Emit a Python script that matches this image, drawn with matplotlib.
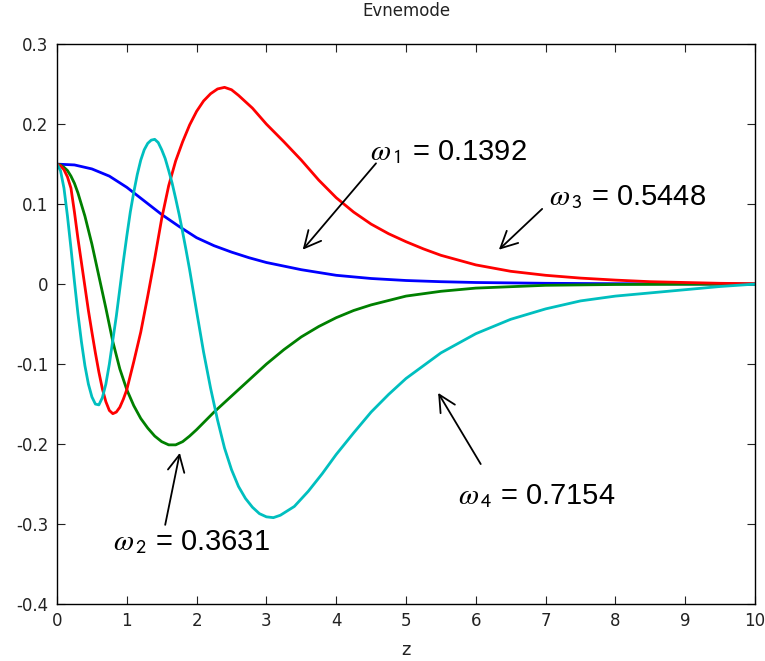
import matplotlib.pyplot as plt

# even modes, sampled values
z1 = [0, 0.25, 0.5, 0.75, 1.0, 1.25, 1.5, 1.75, 2.0, 2.25, 2.5, 2.75, 3.0, 3.5,
      4.0, 4.5, 5.0, 5.5, 6.0, 7.0, 8.0, 9.0, 10.0]
mode1 = [0.150, 0.149, 0.144, 0.135, 0.121, 0.104, 0.087, 0.072, 0.058, 0.048,
         0.040, 0.033, 0.027, 0.018, 0.011, 0.007, 0.0045, 0.003, 0.002, 0.001,
         0.0005, 0.0002, 0.0]

z2 = [0, 0.05, 0.1, 0.15, 0.2, 0.25, 0.3, 0.4, 0.5, 0.6, 0.7, 0.8, 0.9, 1.0,
      1.1, 1.2, 1.3, 1.4, 1.5, 1.6, 1.7, 1.8, 1.9, 2.0, 2.25, 2.5, 2.75, 3.0,
      3.25, 3.5, 3.75, 4.0, 4.25, 4.5, 5.0, 5.5, 6.0, 7.0, 8.0, 9.0, 10.0]
mode2 = [0.150, 0.149, 0.146, 0.142, 0.135, 0.126, 0.114, 0.085, 0.050, 0.010,
         -0.030, -0.072, -0.106, -0.132, -0.152, -0.168, -0.180, -0.190,
         -0.197, -0.201, -0.201, -0.197, -0.190, -0.182, -0.160, -0.140,
         -0.120, -0.100, -0.082, -0.066, -0.053, -0.042, -0.033, -0.026,
         -0.015, -0.009, -0.005, -0.0015, -0.0005, -0.0002, 0.0]

z3 = [0, 0.05, 0.1, 0.15, 0.2, 0.25, 0.3, 0.35, 0.4, 0.45, 0.5, 0.55, 0.6,
      0.65, 0.7, 0.75, 0.8, 0.85, 0.9, 0.95, 1.0, 1.1, 1.2, 1.3, 1.4, 1.5, 1.6,
      1.7, 1.8, 1.9, 2.0, 2.1, 2.2, 2.3, 2.4, 2.5, 2.6, 2.7, 2.8, 3.0, 3.25,
      3.5, 3.75, 4.0, 4.25, 4.5, 4.75, 5.0, 5.25, 5.5, 6.0, 6.5, 7.0, 7.5, 8.0,
      8.5, 9.0, 9.5, 10.0]
mode3 = [0.150, 0.148, 0.143, 0.134, 0.120, 0.090, 0.057, 0.027, -0.003,
         -0.033, -0.060, -0.086, -0.110, -0.131, -0.147, -0.158, -0.162,
         -0.160, -0.154, -0.144, -0.132, -0.097, -0.060, -0.015, 0.032, 0.082,
         0.123, 0.154, 0.178, 0.199, 0.216, 0.229, 0.238, 0.244, 0.246, 0.243,
         0.236, 0.228, 0.220, 0.200, 0.178, 0.155, 0.130, 0.108, 0.090, 0.075,
         0.063, 0.053, 0.044, 0.036, 0.024, 0.016, 0.011, 0.0075, 0.005, 0.003,
         0.002, 0.001, 0.0005]

z4 = [0, 0.05, 0.1, 0.15, 0.2, 0.25, 0.3, 0.35, 0.4, 0.45, 0.5, 0.55, 0.6,
      0.65, 0.7, 0.75, 0.8, 0.85, 0.9, 0.95, 1.0, 1.05, 1.1, 1.15, 1.2, 1.25,
      1.3, 1.35, 1.4, 1.45, 1.5, 1.55, 1.6, 1.65, 1.7, 1.75, 1.8, 1.85, 1.9,
      1.95, 2.0, 2.1, 2.2, 2.3, 2.4, 2.5, 2.6, 2.7, 2.8, 2.9, 3.0, 3.1, 3.2,
      3.4, 3.6, 3.8, 4.0, 4.25, 4.5, 4.75, 5.0, 5.5, 6.0, 6.5, 7.0, 7.5, 8.0,
      8.5, 9.0, 9.5, 10.0]
mode4 = [0.150, 0.142, 0.120, 0.085, 0.045, 0.003, -0.037, -0.072, -0.102,
         -0.125, -0.141, -0.150, -0.151, -0.142, -0.125, -0.100, -0.070,
         -0.040, -0.006, 0.028, 0.060, 0.090, 0.115, 0.137, 0.155, 0.168,
         0.176, 0.180, 0.181, 0.177, 0.168, 0.157, 0.142, 0.126, 0.107, 0.087,
         0.065, 0.042, 0.018, -0.008, -0.034, -0.085, -0.130, -0.170, -0.205,
         -0.232, -0.253, -0.268, -0.279, -0.287, -0.291, -0.292, -0.289,
         -0.278, -0.259, -0.237, -0.213, -0.186, -0.160, -0.138, -0.118,
         -0.086, -0.062, -0.044, -0.031, -0.021, -0.015, -0.011, -0.007,
         -0.003, 0.0]

omega = [0.1392, 0.3631, 0.5448, 0.7154]

plt.rcParams['font.family'] = ['DejaVu Sans']
plt.rcParams['mathtext.fontset'] = 'stix'

fig = plt.figure(figsize=(7.65, 6.61), dpi=100)
ax = fig.add_axes([0.0745, 0.0862, 0.9125, 0.847])

ax.plot(z1, mode1, color=(0, 0, 1), lw=2)
ax.plot(z2, mode2, color=(0, 0.5, 0), lw=2)
ax.plot(z3, mode3, color=(1, 0, 0), lw=2)
ax.plot(z4, mode4, color=(0, 0.75, 0.75), lw=2)

ax.set_xlim(0, 10)
ax.set_ylim(-0.4, 0.3)
ax.set_xticks(range(0, 11))
ax.set_yticks([-0.4, -0.3, -0.2, -0.1, 0, 0.1, 0.2, 0.3])
ax.set_yticklabels(['-0.4', '-0.3', '-0.2', '-0.1', '0', '0.1', '0.2', '0.3'])
ax.tick_params(direction='in', length=6, top=True, right=True, labelsize=12,
               colors='#222222', pad=6)
for s in ax.spines.values():
    s.set_linewidth(1)
ax.set_title('Evnemode', fontsize=12, pad=20, color='#222222')
ax.set_xlabel('z', fontsize=13, labelpad=8, color='#222222')

# omega labels and arrows pointing at each curve
lab = dict(fontsize=21, family='Liberation Sans', va='baseline', ha='left')
arr = dict(arrowstyle='->, head_length=0.6, head_width=0.3', color='k',
           lw=1.3, mutation_scale=20, shrinkA=0, shrinkB=0)
labels = [
    (omega[0], 1, (4.48, 0.155), (4.57, 0.151), (3.52, 0.043)),
    (omega[2], 3, (7.05, 0.099), (6.95, 0.094), (6.33, 0.043)),
    (omega[3], 4, (5.74, -0.275), (6.07, -0.225), (5.46, -0.136)),
    (omega[1], 2, (0.80, -0.3325), (1.55, -0.301), (1.76, -0.211)),
]
for w, k, txt, tail, head in labels:
    ax.text(txt[0], txt[1], r'$\omega_{\,\mathsf{%d}}$ = %.4f' % (k, w), **lab)
    ax.annotate('', xy=head, xytext=tail, arrowprops=arr)

fig.savefig('out.png', dpi=100)
